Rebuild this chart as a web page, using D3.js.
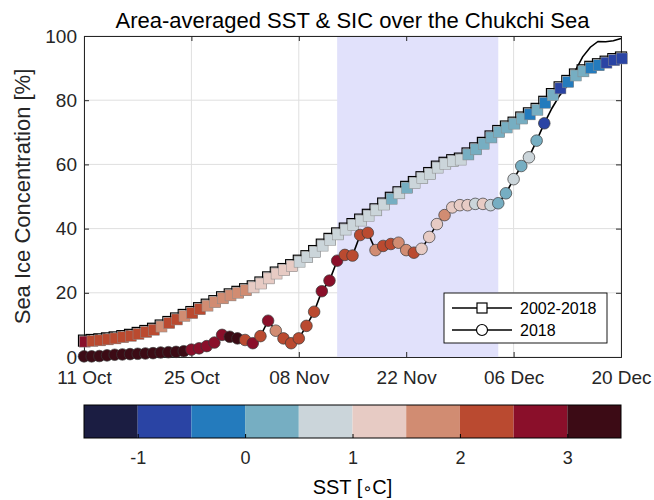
<!DOCTYPE html>
<html><head><meta charset="utf-8">
<script src="https://cdn.jsdelivr.net/npm/d3@7"></script>
<style>
body{margin:0;background:#fff}
svg{display:block;font-family:"Liberation Sans",Arial,Helvetica,sans-serif}
</style>
</head><body>
<svg id="c" width="654" height="500"></svg>
<script>
// ---------------- DATA ----------------
const startDate = "2018-10-11";
// 2002-2018 mean sea ice concentration (%), daily from 11 Oct
const climSIC = [5.1,5.3,5.5,5.8,6.1,6.5,6.9,7.5,8.1,8.8,
 9.8,10.9,12.0,13.1,14.0,15.2,16.3,17.4,18.6,19.5,
 20.3,21.1,22.0,23.2,24.8,26.3,27.4,28.6,30.0,31.4,
 33.0,35.0,36.8,38.5,40.0,41.4,42.8,44.3,46.0,47.8,
 49.6,51.3,53.0,54.5,56.0,57.3,59.3,60.5,61.3,61.8,
 63.4,65.0,66.7,68.7,70.4,71.8,73.0,74.6,75.9,77.3,
 79.5,81.9,84.0,86.0,88.0,89.3,90.4,91.2,92.0,92.8,93.3];
// 2002-2018 mean SST (deg C)
const climSST = [2.6,
 2.45,2.4,2.4,2.35,2.3,2.3,2.25,2.2,2.1,
 1.95,2.05,2.02,1.95,2.05,2.0,
 1.9,1.85,1.8,1.75,1.7,1.6,
 1.45,1.4,1.35,1.3,1.2,1.1,
 0.95,0.9,0.9,0.85,0.8,0.8,0.75,0.7,0.7,0.65,0.6,0.55,
 0.45,0.55,0.45,
 0.55,0.6,0.55,0.55,0.6,0.65,0.55,
 0.4,0.35,0.3,0.3,0.25,0.2,0.15,0.1,
 -0.05,0.05,-0.1,0.02,-0.55,-0.2,0.05,0.02,-0.15,-0.3,-0.55,-0.6,-0.7];
// 2018 sea ice concentration (%)
const sic2018 = [0.2,0.2,0.3,0.5,0.7,0.8,0.9,1.0,1.1,1.2,1.4,1.5,1.6,1.8,
 2.3,2.7,3.4,4.5,6.9,6.3,5.8,5.3,4.3,6.5,11.3,8.2,5.8,4.3,5.8,9.7,14.1,
 20.5,23.8,30.0,31.8,31.6,38.0,38.7,33.3,34.6,35.2,35.6,33.3,32.5,33.7,37.4,41.4,44.2,46.6,47.3,47.3,47.7,47.7,47.3,47.9,51.0,55.4,59.5,62.2,67.4,72.8,
 77.5,81.5,84.5,89.0,93.5,96.5,98.3,98.2,98.5,99.2];
// 2018 SST (deg C); null = no SST marker
const sst2018 = [3.45,3.4,3.4,3.35,3.3,3.3,3.25,3.3,3.2,3.2,3.15,3.1,3.1,3.05,
 2.95,2.9,2.85,2.8,2.75,3.05,3.05,2.4,2.6,2.3,2.7,1.9,
 2.3,2.2,2.3,2.2,2.1,2.6,2.7,2.6,2.3,2.2,2.2,2.1,1.9,2.1,2.1,1.8,1.7,2.05,
 1.4,1.3,1.2,1.6,1.3,1.2,1.1,0.9,1.05,0.9,0.4,0.3,0.6,0.3,0.55,0.2,-0.6,
 null,null,null,null,null,null,null,null,null,null];
const xTickDates = ["2018-10-11","2018-10-25","2018-11-08","2018-11-22","2018-12-06","2018-12-20"];
const yTicks = [0,20,40,60,80,100];
const shadeRange = ["2018-11-13","2018-12-04"];
const sstBins = [-1.5,-1,-0.5,0,0.5,1,1.5,2,2.5,3,3.5];
const sstColors = ["#1b1d42","#2a44a4","#247bbd","#76aec2","#cbd5da","#e7cbc4","#d18c72","#ba4a30","#8a0f2a","#3c0b15"];
const cbTicks = [-1,0,1,2,3];
const legendLabels = ["2002-2018","2018"];
const titleText = "Area-averaged SST & SIC over the Chukchi Sea";
const yLabelText = "Sea Ice Concentration [%]";

// ---------------- CHART ----------------
const svg = d3.select("#c");
const m = {l:84, r:621, t:36, b:357};
const parse = d3.utcParse("%Y-%m-%d");
const t0 = parse(startDate);
const dateAt = i => d3.utcDay.offset(t0, i);
const x = d3.scaleUtc().domain([parse(xTickDates[0]), parse(xTickDates[xTickDates.length-1])]).range([m.l, m.r]);
const y = d3.scaleLinear().domain([0,100]).range([m.b, m.t]);
const color = d3.scaleThreshold().domain(sstBins.slice(1,-1)).range(sstColors);
const axCol = "#262626";
const tickFont = 19;

// grid
const grid = svg.append("g");
grid.selectAll("line.v").data(xTickDates).join("line")
  .attr("x1", d=>x(parse(d))).attr("x2", d=>x(parse(d)))
  .attr("y1", m.t).attr("y2", m.b).attr("stroke","#dfdfdf").attr("stroke-width",1);
grid.selectAll("line.h").data(yTicks).join("line")
  .attr("x1", m.l).attr("x2", m.r)
  .attr("y1", d=>y(d)).attr("y2", d=>y(d)).attr("stroke","#dfdfdf").attr("stroke-width",1);

// shade
svg.append("rect")
  .attr("x", x(parse(shadeRange[0]))).attr("y", m.t)
  .attr("width", x(parse(shadeRange[1])) - x(parse(shadeRange[0])))
  .attr("height", m.b - m.t).attr("fill", "#e1e1fb");

// axes
const xa = svg.append("g").attr("transform", `translate(0,${m.b})`)
  .call(d3.axisBottom(x).tickValues(xTickDates.map(parse)).tickFormat(d3.utcFormat("%d %b")).tickSize(-5).tickPadding(14));
const xt = svg.append("g").attr("transform", `translate(0,${m.t})`)
  .call(d3.axisTop(x).tickValues(xTickDates.map(parse)).tickFormat("").tickSize(-5));
const ya = svg.append("g").attr("transform", `translate(${m.l},0)`)
  .call(d3.axisLeft(y).tickValues(yTicks).tickSize(-5).tickPadding(7));
const yr = svg.append("g").attr("transform", `translate(${m.r},0)`)
  .call(d3.axisRight(y).tickValues(yTicks).tickFormat("").tickSize(-5));
[xa,xt,ya,yr].forEach(g=>{
  g.selectAll("path").attr("stroke", axCol).attr("stroke-width",1);
  g.selectAll("line").attr("stroke", axCol);
  g.selectAll("text").attr("fill", axCol).style("font-size", tickFont+"px");
});

// clim series
const line = d3.line().x((d,i)=>x(dateAt(i))).y(d=>y(d));
svg.append("path").datum(climSIC).attr("d", line)
  .attr("fill","none").attr("stroke","#000").attr("stroke-width",1.2);
const sq = 11;
svg.append("g").selectAll("rect").data(climSIC).join("rect")
  .attr("x",(d,i)=>x(dateAt(i))-sq/2).attr("y",d=>y(d)-sq/2)
  .attr("width",sq).attr("height",sq)
  .attr("fill","none").attr("stroke","#000").attr("stroke-width",1.2);

// 2018 line
const line2 = d3.line().x((d,i)=>x(dateAt(i))).y(d=>y(d));
svg.append("path").datum(sic2018).attr("d", line2)
  .attr("fill","none").attr("stroke","#000").attr("stroke-width",1.6);

// clim colored squares
svg.append("g").selectAll("rect").data(climSIC).join("rect")
  .attr("x",(d,i)=>x(dateAt(i))-sq/2+0.8).attr("y",d=>y(d)-sq/2+1)
  .attr("width",sq).attr("height",sq)
  .attr("fill",(d,i)=>color(climSST[i])).attr("stroke","#8c8c8c").attr("stroke-width",0.5);

// 2018 colored circles
const pts = sic2018.map((v,i)=>({i,v,s:sst2018[i]})).filter(d=>d.s!==null);
svg.append("g").selectAll("circle").data(pts).join("circle")
  .attr("cx",d=>x(dateAt(d.i))).attr("cy",d=>y(d.v)).attr("r",5.8)
  .attr("fill",d=>color(d.s)).attr("stroke","#3a3a3a").attr("stroke-width",0.7);

// title
svg.append("text").attr("x",(m.l+m.r)/2).attr("y",28).attr("text-anchor","middle")
  .style("font-size","22px").attr("fill","#000").text(titleText);
// y label
svg.append("text").attr("transform",`translate(30,${(m.t+m.b)/2}) rotate(-90)`)
  .attr("text-anchor","middle").style("font-size","22px").attr("fill",axCol).text(yLabelText);

// legend
const lg = svg.append("g").attr("transform","translate(444,293)");
lg.append("rect").attr("width",163).attr("height",50).attr("fill","#fff").attr("stroke","#000").attr("stroke-width",0.9);
legendLabels.forEach((lab,k)=>{
  const yy = 15 + k*22;
  lg.append("line").attr("x1",8).attr("x2",68).attr("y1",yy).attr("y2",yy).attr("stroke","#000").attr("stroke-width",1.5);
  if(k===0) lg.append("rect").attr("x",33).attr("y",yy-5).attr("width",10).attr("height",10).attr("fill","#fff").attr("stroke","#000").attr("stroke-width",1.2);
  else lg.append("circle").attr("cx",38).attr("cy",yy).attr("r",5.5).attr("fill","#fff").attr("stroke","#000").attr("stroke-width",1.2);
  lg.append("text").attr("x",76).attr("y",yy).attr("dy","0.35em").style("font-size","16px").attr("fill","#000").text(lab);
});

// colorbar
const cb = {t:405, b:438};
const cx = d3.scaleLinear().domain([sstBins[0], sstBins[sstBins.length-1]]).range([m.l, m.r]);
svg.append("g").selectAll("rect").data(sstColors).join("rect")
  .attr("x",(d,i)=>cx(sstBins[i])).attr("y",cb.t)
  .attr("width",(d,i)=>cx(sstBins[i+1])-cx(sstBins[i])).attr("height",cb.b-cb.t)
  .attr("fill",d=>d);
const cba = svg.append("g").attr("transform",`translate(0,${cb.b})`)
  .call(d3.axisBottom(cx).tickValues(cbTicks).tickSize(-4).tickPadding(13).tickFormat(d=>String(d)));
cba.select("path").remove();
cba.selectAll("line").attr("stroke","#000");
cba.selectAll("text").attr("fill",axCol).style("font-size","18px");
svg.append("rect").attr("x",m.l).attr("y",cb.t).attr("width",m.r-m.l).attr("height",cb.b-cb.t)
  .attr("fill","none").attr("stroke","#000").attr("stroke-width",1);
const cl = svg.append("text").attr("x",(m.l+m.r)/2).attr("y",494).attr("text-anchor","middle")
  .style("font-size","20px").attr("fill","#000");
cl.append("tspan").text("SST [");
cl.append("tspan").style("font-family","'DejaVu Sans'").style("font-size","16px").text("\u2218");
cl.append("tspan").text("C]");
</script>
</body></html>
